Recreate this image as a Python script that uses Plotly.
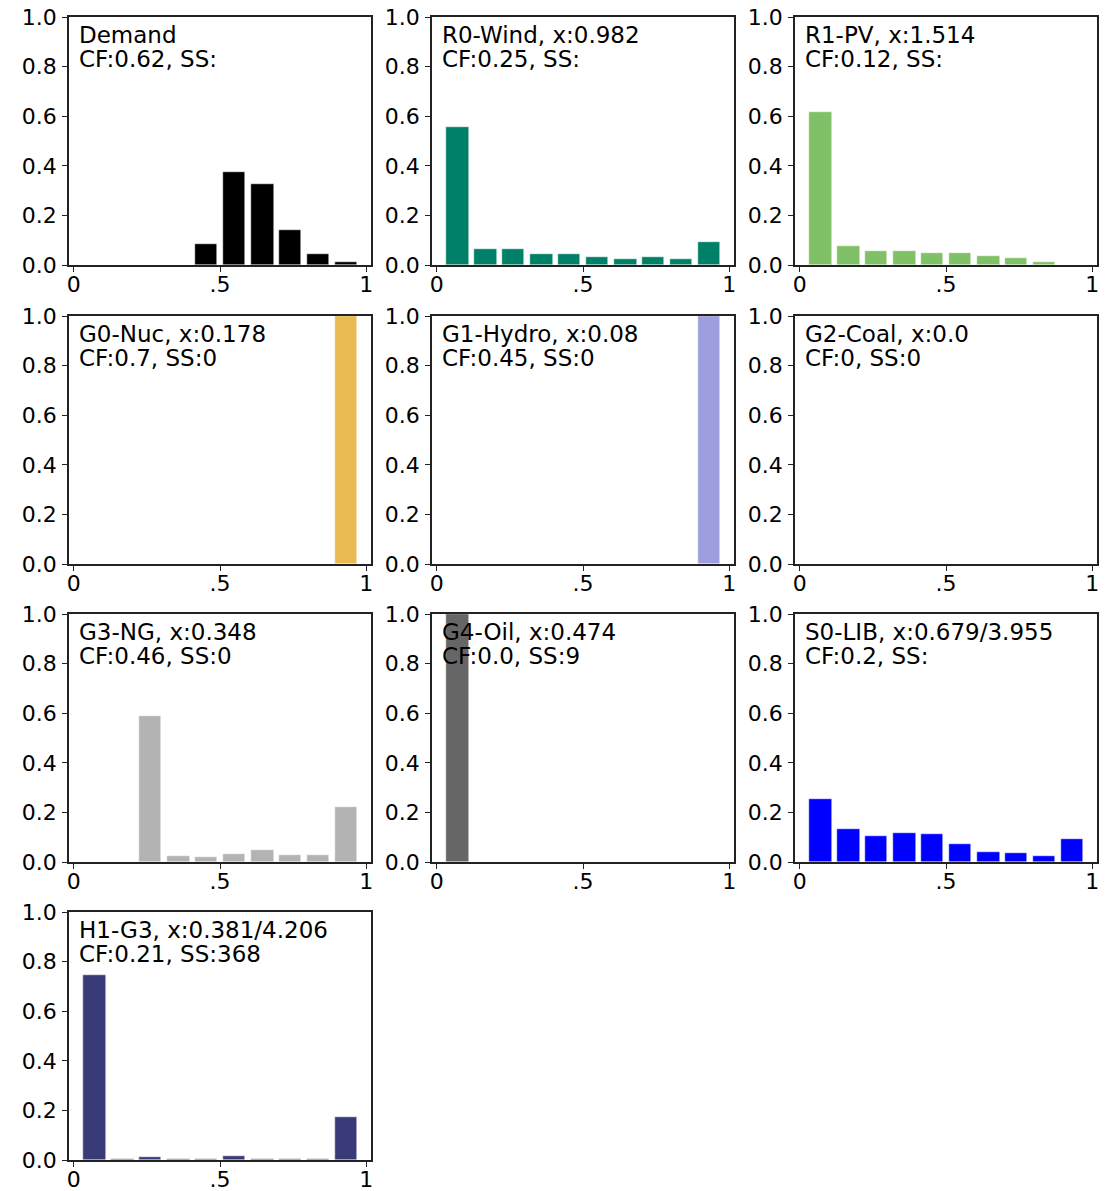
import plotly.graph_objects as go

# ---- data ----
bin_centers = [0.071, 0.167, 0.262, 0.358, 0.453, 0.549, 0.645, 0.740, 0.836, 0.931]
bar_width = 0.076

panel_line1 = [
    "Demand", "R0-Wind, x:0.982", "R1-PV, x:1.514",
    "G0-Nuc, x:0.178", "G1-Hydro, x:0.08", "G2-Coal, x:0.0",
    "G3-NG, x:0.348", "G4-Oil, x:0.474", "S0-LIB, x:0.679/3.955",
    "H1-G3, x:0.381/4.206",
]
panel_line2 = [
    "CF:0.62, SS:", "CF:0.25, SS:", "CF:0.12, SS:",
    "CF:0.7, SS:0", "CF:0.45, SS:0", "CF:0, SS:0",
    "CF:0.46, SS:0", "CF:0.0, SS:9", "CF:0.2, SS:",
    "CF:0.21, SS:368",
]
panel_colors = ["#000000", "#008066", "#80c066", "#e7ba52", "#9c9ede",
                "#8c6d31", "#b3b3b3", "#666666", "#0000ff", "#393b79"]

demand = [0, 0, 0, 0, 0.086, 0.376, 0.325, 0.142, 0.043, 0.011]
wind = [0.555, 0.065, 0.065, 0.043, 0.043, 0.034, 0.024, 0.034, 0.024, 0.094]
pv = [0.617, 0.078, 0.056, 0.056, 0.047, 0.047, 0.038, 0.030, 0.012, 0]
nuc = [0, 0, 0, 0, 0, 0, 0, 0, 0, 1.0]
hydro = [0, 0, 0, 0, 0, 0, 0, 0, 0, 1.0]
coal = [0, 0, 0, 0, 0, 0, 0, 0, 0, 0]
ng = [0, 0, 0.589, 0.023, 0.019, 0.032, 0.048, 0.027, 0.027, 0.223]
oil = [1.0, 0, 0, 0, 0, 0, 0, 0, 0, 0]
lib = [0.253, 0.132, 0.106, 0.116, 0.112, 0.071, 0.042, 0.036, 0.023, 0.093]
h1g3 = [0.746, 0.005, 0.011, 0.005, 0.005, 0.015, 0.005, 0.005, 0.005, 0.175]
panel_values = [demand, wind, pv, nuc, hydro, coal, ng, oil, lib, h1g3]

x_tickvals = [0, 0.5, 1]
x_ticktext = ["0", ".5", "1"]
y_tickvals = [0, 0.2, 0.4, 0.6, 0.8, 1.0]
y_ticktext = ["0.0", "0.2", "0.4", "0.6", "0.8", "1.0"]

# ---- layout geometry ----
W, H = 1109, 1191
col_px = [(69, 371), (432, 734), (795, 1097)]
row_px = [(17, 265), (316, 564), (614, 862), (912, 1160)]

FONT = "DejaVu Sans"
TICK_SIZE = 22
ANN_SIZE = 23
fig = go.Figure()
layout = dict(
    width=W, height=H, margin=dict(l=0, r=0, t=0, b=0, autoexpand=False),
    paper_bgcolor="white", plot_bgcolor="white", showlegend=False,
    bargap=0, font=dict(family=FONT, size=TICK_SIZE, color="black"),
)
annotations = []
for i, (l1, l2, color, vals) in enumerate(zip(panel_line1, panel_line2, panel_colors, panel_values)):
    r, c = divmod(i, 3)
    n = i + 1
    xa = "x" if n == 1 else f"x{n}"
    ya = "y" if n == 1 else f"y{n}"
    fig.add_trace(go.Bar(
        x=bin_centers, y=vals, width=bar_width,
        marker=dict(color=color, line=dict(color="white", width=0.5)),
        xaxis=xa, yaxis=ya, hoverinfo="skip",
    ))
    x0, x1 = col_px[c]
    y0, y1 = row_px[r]
    axis_common = dict(showline=True, linecolor="#222222", linewidth=1.5, mirror=True,
                       ticks="outside", ticklen=5, tickwidth=1.2, tickcolor="#222222",
                       showgrid=False, zeroline=False,
                       tickfont=dict(family=FONT, size=TICK_SIZE, color="black"))
    layout["xaxis" if n == 1 else f"xaxis{n}"] = dict(
        domain=[x0 / W, x1 / W], range=[-0.016, 1.016], anchor=ya,
        tickvals=x_tickvals, ticktext=x_ticktext, ticklabelstandoff=-6, **axis_common)
    layout["yaxis" if n == 1 else f"yaxis{n}"] = dict(
        domain=[1 - y1 / H, 1 - y0 / H], range=[0, 1], anchor=xa,
        tickvals=y_tickvals, ticktext=y_ticktext, ticklabelstandoff=1, **axis_common)
    for txt, yy in ((l1, 0.927), (l2, 0.829)):
        annotations.append(dict(
            text=txt, xref=f"{xa} domain", yref=f"{ya} domain", x=0.026, y=yy,
            xanchor="left", yanchor="middle", align="left", showarrow=False,
            font=dict(family=FONT, size=ANN_SIZE, color="black"),
        ))
layout["annotations"] = annotations
fig.update_layout(**layout)
fig.write_html("out.html")
